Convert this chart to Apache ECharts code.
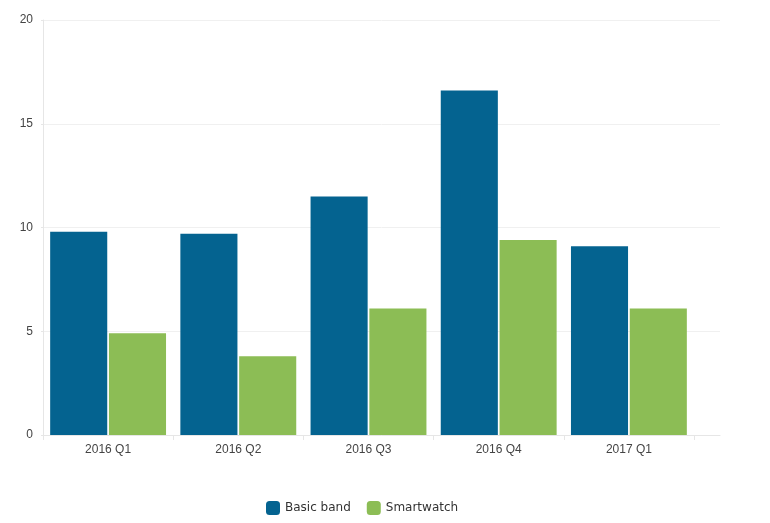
<!DOCTYPE html>
<html><head><meta charset="utf-8">
<script src="https://cdn.jsdelivr.net/npm/echarts@6/dist/echarts.min.js"></script>
<style>html,body{margin:0;padding:0;background:#fff}#c{width:770px;height:523px}</style>
</head><body><div id="c"></div>
<script>
const categories = ['2016 Q1', '2016 Q2', '2016 Q3', '2016 Q4', '2017 Q1'];
const basicBand = [9.8, 9.7, 11.5, 16.6, 9.1];
const smartwatch = [4.9, 3.8, 6.1, 9.4, 6.1];
const yTicks = [0, 5, 10, 15, 20];

const chart = echarts.init(document.getElementById('c'));
chart.setOption({
  animation: false,
  textStyle: { fontFamily: 'Liberation Sans, Arial, sans-serif' },
  legend: {
    top: 496, left: 261, itemWidth: 14, itemHeight: 14, itemGap: 16,
    icon: 'roundRect',
    textStyle: { fontFamily: 'DejaVu Sans, Verdana, sans-serif', fontSize: 12, color: '#333' },
    data: ['Basic band', 'Smartwatch']
  },
  grid: [
    { left: 43, right: 50, top: 20, bottom: 88 },
    { left: 43, right: 76, top: 20, bottom: 88 }
  ],
  xAxis: [
    { gridIndex: 0, type: 'value', min: 0, max: 1, show: true,
      axisLine: { show: true, lineStyle: { color: '#e6e6e6' } },
      axisTick: { show: false }, axisLabel: { show: false }, splitLine: { show: false } },
    { gridIndex: 1, type: 'category', data: categories,
      axisLine: { show: false },
      axisTick: { show: true, length: 5, lineStyle: { color: '#e6e6e6' } },
      axisLabel: { color: '#444', fontSize: 12, margin: 9 } }
  ],
  yAxis: [
    { gridIndex: 0, type: 'value', min: yTicks[0], max: yTicks[yTicks.length - 1], interval: 5,
      axisLine: { show: true, lineStyle: { color: '#e6e6e6' } },
      axisTick: { show: true, length: 2, lineStyle: { color: '#e6e6e6' } },
      axisLabel: { color: '#444', fontSize: 12, margin: 10 },
      splitLine: { lineStyle: { color: '#f0f0f0' } } },
    { gridIndex: 1, type: 'value', min: 0, max: 20, show: false }
  ],
  series: [
    { name: 'Basic band', type: 'bar', xAxisIndex: 1, yAxisIndex: 1, data: basicBand,
      barGap: '3%', barCategoryGap: '11%',
      itemStyle: { color: '#046390' } },
    { name: 'Smartwatch', type: 'bar', xAxisIndex: 1, yAxisIndex: 1, data: smartwatch,
      itemStyle: { color: '#8cbd55' } }
  ]
});
</script></body></html>
